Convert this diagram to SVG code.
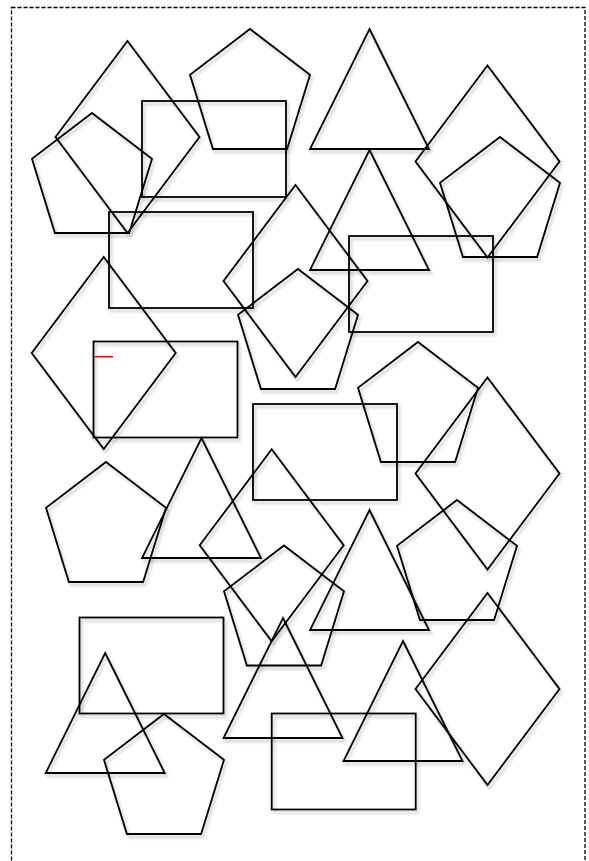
<svg xmlns="http://www.w3.org/2000/svg" xmlns:xlink="http://www.w3.org/1999/xlink" width="589" height="861" viewBox="0 0 589 861">
<style>
.s{fill:none;stroke:#000;stroke-width:1.8;filter:url(#sh)}
.frame{fill:none;stroke:#000;stroke-width:1.3;stroke-dasharray:4 2}
</style>
<defs>
<filter id="sh" x="-10%" y="-10%" width="130%" height="130%">
<feDropShadow dx="2" dy="3" stdDeviation="1.8" flood-color="#000" flood-opacity="0.22"/>
</filter>
<polygon id="pent" points="60,0 120,45.8 97.1,120 22.9,120 0,45.8"/>
<polygon id="dia" points="72,0 144,96 72,192 0,96"/>
<polygon id="tri" points="59.5,0 119,120 0,120"/>
<rect id="box" x="0" y="0" width="144" height="96"/>
</defs>
<rect class="frame" x="11.5" y="7.5" width="573.5" height="870"/>
<g id="nodes">
<g id="n1"><use class="s" href="#dia" x="55.5" y="41"/></g>
<g id="n2"><use class="s" href="#pent" x="190" y="29"/></g>
<g id="n3"><use class="s" href="#tri" x="310" y="29"/></g>
<g id="n4"><use class="s" href="#dia" x="415.5" y="65.5"/></g>
<g id="n5"><use class="s" href="#pent" x="32" y="113"/></g>
<g id="n6"><use class="s" href="#box" x="142" y="101"/></g>
<g id="n7"><use class="s" href="#pent" x="440" y="137"/></g>
<g id="n8"><use class="s" href="#tri" x="310" y="150"/></g>
<g id="n9"><use class="s" href="#box" x="109" y="212"/></g>
<g id="n10"><use class="s" href="#dia" x="223.5" y="185"/></g>
<g id="n11"><use class="s" href="#box" x="349" y="236"/></g>
<g id="n12"><use class="s" href="#pent" x="238" y="269"/></g>
<g id="n13"><use class="s" href="#dia" x="31.7" y="257"/></g>
<g id="n14"><use class="s" href="#box" x="93.5" y="341.5"/></g>
<g id="n15"><use class="s" href="#pent" x="358" y="342"/></g>
<g id="n16"><use class="s" href="#box" x="253" y="404"/></g>
<g id="n17"><use class="s" href="#dia" x="415.5" y="377.5"/></g>
<g id="n18"><use class="s" href="#tri" x="142" y="438"/></g>
<g id="n19"><use class="s" href="#pent" x="46" y="462"/></g>
<g id="n20"><use class="s" href="#dia" x="199.7" y="449.3"/></g>
<g id="n21"><use class="s" href="#pent" x="397" y="500"/></g>
<g id="n22"><use class="s" href="#tri" x="310" y="510"/></g>
<g id="n23"><use class="s" href="#pent" x="224" y="545.5"/></g>
<g id="n24"><use class="s" href="#box" x="79.5" y="617.5"/></g>
<g id="n25"><use class="s" href="#tri" x="223.5" y="618"/></g>
<g id="n26"><use class="s" href="#tri" x="343.5" y="641"/></g>
<g id="n27"><use class="s" href="#dia" x="415.5" y="593"/></g>
<g id="n28"><use class="s" href="#tri" x="45.7" y="653"/></g>
<g id="n29"><use class="s" href="#box" x="271.7" y="713.5"/></g>
<g id="n30"><use class="s" href="#pent" x="104" y="714"/></g>
</g>
<g id="connectors">
<line x1="94.5" y1="356.7" x2="113" y2="356.7" stroke="#f00" stroke-width="1.5"/>
</g>
</svg>
